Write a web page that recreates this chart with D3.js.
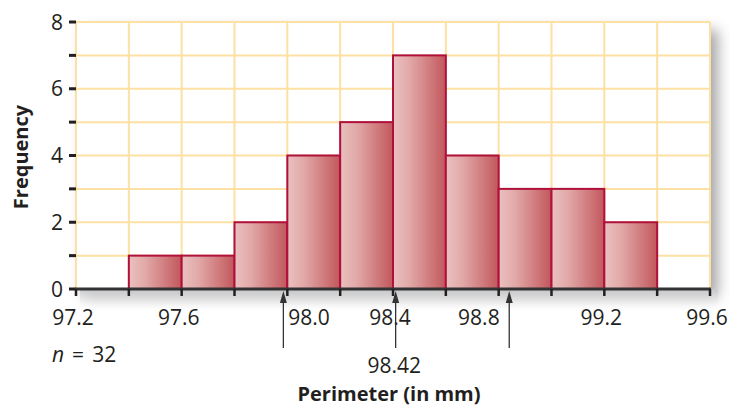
<!DOCTYPE html>
<html><head><meta charset="utf-8">
<script src="https://cdn.jsdelivr.net/npm/d3@7"></script>
<style>body{margin:0;background:#fff}svg{display:block}text{font-family:"Open Sans","Noto Sans",sans-serif;fill:#231f20}</style>
</head><body><svg id="c" width="730" height="409"></svg>
<script>
const binStarts = [97.4, 97.6, 97.8, 98.0, 98.2, 98.4, 98.6, 98.8, 99.0, 99.2];
const binWidth = 0.2;
const frequencies = [1, 1, 2, 4, 5, 7, 4, 3, 3, 2];
const xTickLabels = [97.2, 97.6, 98.0, 98.4, 98.8, 99.2, 99.6];
const yTickLabels = [0, 2, 4, 6, 8];
const arrowValues = [97.985, 98.41, 98.84];
const meanLabel = "98.42";
const nLabel = 32;

const svg = d3.select("#c");
const x = d3.scaleLinear().domain([97.2, 99.6]).range([76, 710]);
const y = d3.scaleLinear().domain([0, 8]).range([289, 22]);

const defs = svg.append("defs");
const g = defs.append("linearGradient").attr("id", "barGrad").attr("x1", "0").attr("x2", "1").attr("y1", "0").attr("y2", "0");
g.append("stop").attr("offset", "0").attr("stop-color", "#e9c1bf");
g.append("stop").attr("offset", "0.3").attr("stop-color", "#e2aaa9");
g.append("stop").attr("offset", "1").attr("stop-color", "#c2575c");
const f = defs.append("filter").attr("id", "shadow").attr("x", "-10%").attr("y", "-10%").attr("width", "130%").attr("height", "130%");
f.append("feDropShadow").attr("dx", 8).attr("dy", 8).attr("stdDeviation", 7).attr("flood-color", "#000").attr("flood-opacity", 0.35);
const axisShadow = defs.append("linearGradient").attr("id", "axGrad").attr("x1", 0).attr("x2", 0).attr("y1", 0).attr("y2", 1);
axisShadow.append("stop").attr("offset", 0).attr("stop-color", "#c8c9cb");
axisShadow.append("stop").attr("offset", 1).attr("stop-color", "#fff").attr("stop-opacity", 0);

// plot background with shadow
svg.append("rect").attr("x", x(97.2)).attr("y", y(8)).attr("width", x(99.6) - x(97.2)).attr("height", y(0) - y(8))
  .attr("fill", "#fff").attr("filter", "url(#shadow)");
svg.append("rect").attr("x", x(97.2) + 4).attr("y", y(0)).attr("width", x(99.6) - x(97.2) + 4).attr("height", 22)
  .attr("fill", "url(#axGrad)");

// grid
const gridColor = "#fde0a3";
const vTicks = d3.range(0, 13).map(i => 97.2 + i * 0.2);
svg.append("g").selectAll("line").data(vTicks).join("line")
  .attr("x1", d => x(d)).attr("x2", d => x(d)).attr("y1", y(8)).attr("y2", y(0))
  .attr("stroke", gridColor).attr("stroke-width", 2);
svg.append("g").selectAll("line").data(d3.range(1, 9)).join("line")
  .attr("x1", x(97.2)).attr("x2", x(99.6)).attr("y1", d => y(d)).attr("y2", d => y(d))
  .attr("stroke", gridColor).attr("stroke-width", 2);

// bars
svg.append("g").selectAll("rect").data(binStarts).join("rect")
  .attr("x", d => x(d)).attr("width", d => x(d + binWidth) - x(d))
  .attr("y", (d, i) => y(frequencies[i])).attr("height", (d, i) => y(0) - y(frequencies[i]))
  .attr("fill", "url(#barGrad)").attr("stroke", "#b0103c").attr("stroke-width", 2);

// y axis ticks & labels
const yAxis = svg.append("g");
yAxis.selectAll("line").data(d3.range(0, 9)).join("line")
  .attr("x1", 69).attr("x2", 76).attr("y1", d => y(d)).attr("y2", d => y(d))
  .attr("stroke", "#231f20").attr("stroke-width", 3);
yAxis.selectAll("text").data(yTickLabels).join("text")
  .attr("x", 63).attr("y", d => y(d)).attr("dy", "0.36em").attr("text-anchor", "end")
  .attr("font-size", 21).text(d => d);

// x axis
svg.append("line").attr("x1", x(97.2) - 1).attr("x2", x(99.6) + 1).attr("y1", y(0)).attr("y2", y(0))
  .attr("stroke", "#333", ).attr("stroke-width", 3);
svg.append("g").selectAll("line").data(vTicks).join("line")
  .attr("x1", d => x(d)).attr("x2", d => x(d)).attr("y1", y(0)).attr("y2", y(0) + 7)
  .attr("stroke", "#231f20").attr("stroke-width", 2.5);
// labels next to arrows are nudged aside (as in the original)
svg.append("g").selectAll("text").data(xTickLabels).join("text")
  .attr("x", d => d === 98.0 ? x(d) + 1 : d === 98.8 ? x(d) + 1 : x(d) - 3)
  .attr("text-anchor", d => d === 98.0 ? "start" : d === 98.8 ? "end" : "middle")
  .attr("y", 325).attr("font-size", 21).text(d => d.toFixed(1));

// arrows
const arr = svg.append("g");
arr.selectAll("line").data(arrowValues).join("line")
  .attr("x1", d => x(d)).attr("x2", d => x(d)).attr("y1", 348).attr("y2", 300)
  .attr("stroke", "#333").attr("stroke-width", 1.3);
arr.selectAll("path").data(arrowValues).join("path")
  .attr("d", d => `M${x(d)},291 L${x(d) - 3.5},303 L${x(d) + 3.5},303 Z`).attr("fill", "#333");

svg.append("text").attr("x", x(98.42) - 4).attr("y", 373).attr("text-anchor", "middle").attr("font-size", 21).text(meanLabel);
const nt = svg.append("text").attr("x", 52).attr("y", 362).attr("font-size", 21);
nt.append("tspan").attr("font-style", "italic").text("n");
nt.append("tspan").attr("dx", 8).text("=");
nt.append("tspan").attr("dx", 8).text(nLabel);

svg.append("text").attr("x", 389).attr("y", 401).attr("text-anchor", "middle").attr("font-size", 20).attr("font-weight", "bold").text("Perimeter (in mm)");
svg.append("text").attr("transform", "translate(28,157) rotate(-90)").attr("text-anchor", "middle").attr("font-size", 20).attr("font-weight", "bold").text("Frequency");
</script></body></html>
